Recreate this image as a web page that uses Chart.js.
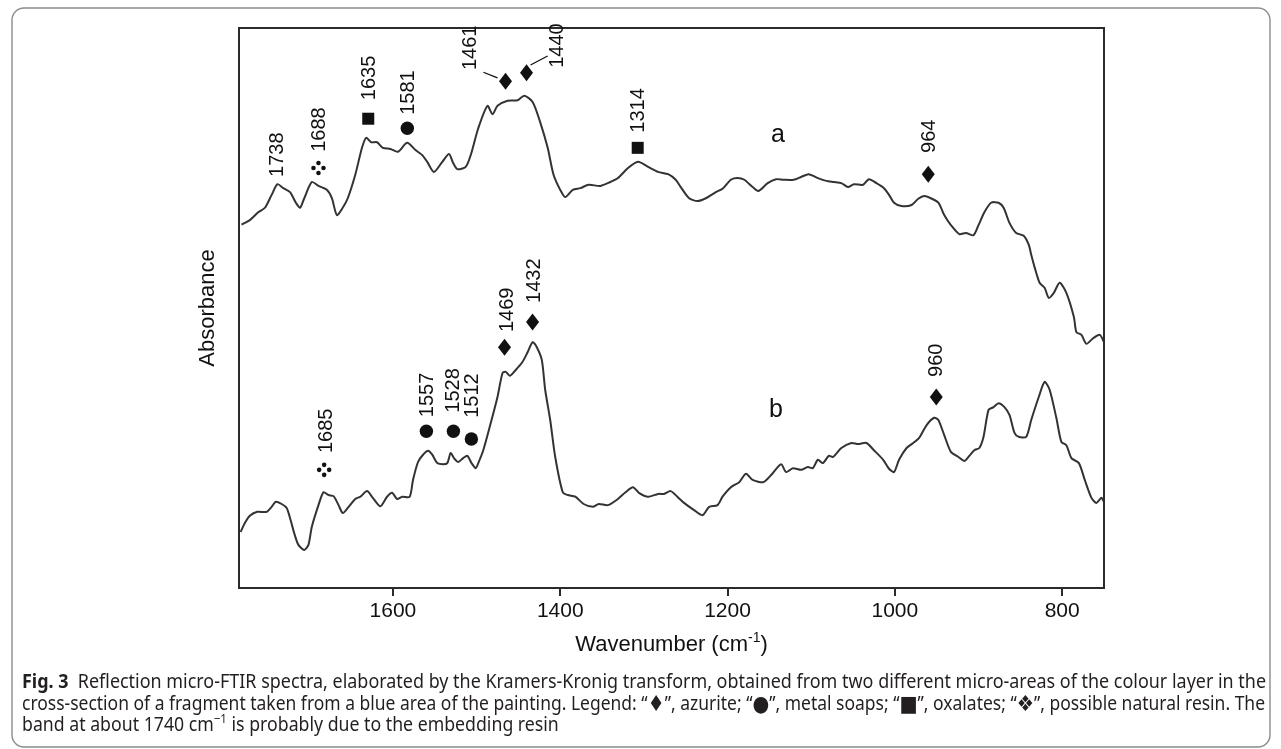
<!DOCTYPE html>
<html>
<head>
<meta charset="utf-8">
<script src="https://cdn.jsdelivr.net/npm/chart.js@4.4.0/dist/chart.umd.min.js"></script>
<style>
  html, body { margin: 0; padding: 0; background: #fff; }
  #wrap { width: 1281px; height: 749px; }
</style>
</head>
<body>
<div id="wrap"><canvas id="ftir" width="1281" height="749"></canvas></div>
<script>
// spectrum a (upper): wavenumber (cm-1) and absorbance (arbitrary units)
const waveA = [
  1781, 1771, 1761, 1753, 1745, 1738, 1731, 1723, 1716, 1711,
  1706, 1697, 1689, 1679, 1673, 1667, 1660, 1654, 1645, 1637,
  1632, 1626, 1619, 1612, 1603, 1594, 1583, 1573, 1565, 1559,
  1551, 1541, 1533, 1528, 1523, 1513, 1507, 1498, 1487, 1481,
  1475, 1463, 1451, 1443, 1433, 1424, 1415, 1408, 1400, 1394,
  1385, 1376, 1366, 1352, 1340, 1331, 1319, 1307, 1295, 1283,
  1271, 1262, 1256, 1246, 1236, 1226, 1214, 1206, 1196, 1188,
  1180, 1170, 1163, 1152, 1142, 1133, 1121, 1112, 1103, 1092,
  1082, 1073, 1064, 1056, 1049, 1038, 1031, 1022, 1013, 1007,
  1001, 992, 980, 972, 965, 957, 948, 941, 933, 923,
  915, 906, 900, 893, 885, 876, 870, 863, 855, 846,
  840, 837, 833, 827, 821, 816, 810, 803, 795, 786,
  783, 777, 771, 763, 755, 750
];
const absA = [
  64.9, 65.7, 67.1, 67.9, 70.2, 72.1, 71.4, 70.7, 68.8, 67.9,
  69.6, 72.5, 71.8, 71.1, 69.6, 66.6, 67.9, 69.6, 73.8, 78.6,
  80.4, 79.6, 79.6, 78.6, 78.4, 77.9, 79.5, 78.2, 77.3, 76.1,
  74.3, 76.1, 77.5, 75.9, 74.8, 75.2, 77.3, 82.1, 86.1, 84.6,
  86.1, 87.0, 87.1, 87.9, 86.8, 83.2, 78.6, 73.8, 71.1, 69.8,
  71.1, 71.4, 72.0, 71.8, 72.5, 73.2, 75.0, 76.1, 75.2, 74.3,
  73.9, 72.9, 71.6, 69.6, 69.1, 69.6, 70.7, 71.3, 72.9, 73.2,
  72.9, 71.6, 70.9, 72.3, 73.0, 72.9, 72.9, 73.4, 73.9, 73.2,
  72.7, 72.5, 72.3, 71.6, 72.1, 72.0, 73.0, 72.3, 71.4, 70.2,
  68.8, 68.2, 68.4, 69.5, 70.0, 69.6, 68.8, 66.6, 64.8, 63.2,
  63.4, 63.0, 64.8, 67.1, 68.8, 68.8, 67.9, 65.2, 63.4, 62.9,
  61.3, 59.5, 57.3, 54.5, 53.6, 51.8, 52.7, 54.5, 52.7, 48.4,
  45.7, 45.2, 43.6, 44.6, 45.2, 43.9
];

// spectrum b (lower)
const waveB = [
  1782, 1777, 1771, 1762, 1751, 1745, 1740, 1733, 1727, 1723,
  1718, 1713, 1706, 1701, 1697, 1689, 1683, 1677, 1671, 1665,
  1660, 1654, 1645, 1639, 1631, 1624, 1615, 1607, 1601, 1595,
  1589, 1580, 1576, 1570, 1564, 1558, 1553, 1547, 1540, 1535,
  1531, 1527, 1522, 1516, 1511, 1506, 1501, 1498, 1492, 1483,
  1475, 1469, 1465, 1460, 1454, 1445, 1439, 1433, 1428, 1422,
  1418, 1412, 1406, 1397, 1391, 1382, 1372, 1361, 1354, 1343,
  1331, 1322, 1313, 1306, 1295, 1283, 1276, 1268, 1260, 1252,
  1240, 1230, 1222, 1212, 1206, 1196, 1186, 1178, 1170, 1157,
  1146, 1136, 1130, 1122, 1112, 1104, 1098, 1092, 1086, 1079,
  1074, 1064, 1052, 1044, 1034, 1025, 1014, 1007, 1001, 995,
  986, 978, 971, 962, 953, 948, 941, 933, 924, 917,
  911, 905, 899, 894, 888, 882, 876, 869, 863, 857,
  852, 843, 837, 828, 821, 815, 807, 801, 795, 789,
  780, 773, 765, 759, 753, 750
];
const absB = [
  10.0, 11.6, 12.9, 13.6, 13.6, 14.5, 15.4, 15.0, 14.3, 12.5,
  9.8, 7.7, 6.8, 7.7, 10.9, 14.8, 17.1, 16.6, 16.4, 14.8,
  13.4, 14.3, 15.9, 16.3, 17.3, 16.1, 14.6, 16.3, 17.0, 15.9,
  16.3, 16.3, 19.3, 22.5, 23.8, 24.5, 23.8, 22.3, 22.1, 22.3,
  24.1, 23.2, 22.5, 23.2, 23.6, 22.3, 21.4, 22.3, 24.6, 29.5,
  34.1, 38.4, 38.6, 37.9, 38.8, 40.4, 42.1, 43.9, 43.0, 40.7,
  35.4, 30.0, 23.4, 17.1, 16.6, 16.3, 15.0, 14.5, 15.0, 14.8,
  15.9, 17.1, 18.0, 17.0, 16.3, 16.8, 16.8, 17.3, 16.3, 15.2,
  13.9, 13.0, 14.5, 14.8, 16.3, 18.0, 18.9, 20.4, 19.3, 18.9,
  20.5, 22.1, 20.7, 21.4, 21.1, 21.6, 21.4, 22.9, 22.3, 23.6,
  23.4, 25.0, 25.9, 25.7, 25.9, 24.6, 22.9, 21.3, 20.7, 22.9,
  25.0, 25.9, 26.8, 29.1, 30.4, 30.0, 27.3, 24.3, 23.4, 22.7,
  23.6, 24.6, 25.0, 27.0, 31.8, 32.3, 33.0, 32.3, 30.9, 27.7,
  27.0, 27.0, 30.0, 34.1, 36.8, 35.4, 30.4, 26.1, 25.5, 23.2,
  22.3, 19.3, 16.1, 15.2, 16.1, 15.4
];

const xTicks = [1600, 1400, 1200, 1000, 800];

// band labels: text, marker, marker wavenumber, marker level, label wavenumber, label level
const bandNotes = [
  ['1738', '', 0, 0, 1738.5, 73.4],
  ['1688', 'resin', 1689, 75.0, 1688, 77.9],
  ['1635', 'square', 1629.5, 83.8, 1628.3, 87.1],
  ['1581', 'circle', 1582.8, 82.1, 1581.6, 84.5],
  ['1461', 'diamond', 1465.4, 90.5, 1507.4, 92.5],
  ['1440', 'diamond', 1440.3, 92.0, 1403.2, 92.9],
  ['1314', 'square', 1307.4, 78.6, 1306.2, 81.3],
  ['964', 'diamond', 960.1, 73.9, 958.9, 77.7],
  ['1685', 'resin', 1682.2, 21.1, 1679.8, 24.1],
  ['1557', 'circle', 1560, 28.0, 1558.8, 30.5],
  ['1528', 'circle', 1527.7, 28.0, 1527.7, 31.3],
  ['1512', 'circle', 1506.2, 26.6, 1505, 30.4],
  ['1469', 'diamond', 1466.6, 43.0, 1463, 45.7],
  ['1432', 'diamond', 1433.1, 47.5, 1430.7, 50.9],
  ['960', 'diamond', 950.5, 34.1, 950.5, 37.7]
];
const leaderLines = [
  [1491.8, 92.1, 1475, 91.1],
  [1435.5, 93.4, 1415.1, 95.0]
];
const traceNames = [['a', 1139.7, 80.9], ['b', 1142.1, 31.8]];

// caption, split where the font changes (s = bigger legend symbol, p = superscript)
const captionLine1 = [
  ['b', 'Fig. 3'],
  ['r', '  Reflection micro-FTIR spectra, elaborated by the Kramers-Kronig transform, obtained from two different micro-areas of the colour layer in the']
];
const captionLine2 = [
  ['r', 'cross-section of a fragment taken from a blue area of the painting. Legend: \u201c'],
  ['s', '\u2666'], ['r', '\u201d, azurite; \u201c'],
  ['s', '\u25CF'], ['r', '\u201d, metal soaps; \u201c'],
  ['s', '\u25A0'], ['r', '\u201d, oxalates; \u201c'],
  ['s', '\u2756'], ['r', '\u201d, possible natural resin. The']
];
const captionLine3 = [
  ['r', 'band at about 1740 cm'],
  ['p', '\u22121'],
  ['r', ' is probably due to the embedding resin']
];

const FONT = '"Liberation Sans", Arial, sans-serif';
const CAP_FONT = '"Noto Sans", "Open Sans", sans-serif';
const capFonts = {
  b: 'bold 20px ' + CAP_FONT,
  r: '20px ' + CAP_FONT,
  s: '22px "DejaVu Sans", sans-serif',
  p: '13px ' + CAP_FONT
};

function drawMarker(ctx, kind, x, y) {
  ctx.beginPath();
  if (kind === 'diamond') {
    ctx.moveTo(x, y - 8.5);
    ctx.lineTo(x + 6.5, y);
    ctx.lineTo(x, y + 8.5);
    ctx.lineTo(x - 6.5, y);
    ctx.closePath();
    ctx.fill();
  } else if (kind === 'circle') {
    ctx.arc(x, y, 6.7, 0, Math.PI * 2);
    ctx.fill();
  } else if (kind === 'square') {
    ctx.fillRect(x - 6, y - 6, 12, 12);
  } else if (kind === 'resin') {
    [[0, -5], [5, 0], [0, 5], [-5, 0]].forEach(function (d) {
      ctx.beginPath();
      ctx.arc(x + d[0], y + d[1], 2.3, 0, Math.PI * 2);
      ctx.fill();
    });
  }
}

function lineWidth(ctx, parts) {
  let w = 0;
  parts.forEach(function (p) {
    ctx.font = capFonts[p[0]];
    w += ctx.measureText(p[1]).width;
  });
  return w;
}

function drawLine(ctx, parts, x, y, k) {
  ctx.save();
  ctx.translate(x, y);
  ctx.scale(k, 1);
  let cx = 0;
  parts.forEach(function (p) {
    ctx.font = capFonts[p[0]];
    const dy = p[0] === 'p' ? -8 : (p[0] === 's' ? 1 : 0);
    ctx.fillText(p[1], cx, dy);
    cx += ctx.measureText(p[1]).width;
  });
  ctx.restore();
}

const extras = {
  id: 'extras',
  afterDraw(chart) {
    const ctx = chart.ctx;
    const xs = chart.scales.x;
    const ys = chart.scales.y;
    const area = chart.chartArea;

    ctx.save();
    // plot frame
    ctx.strokeStyle = '#2b2b2b';
    ctx.lineWidth = 2;
    ctx.strokeRect(area.left, area.top, area.right - area.left, area.bottom - area.top);

    // band annotations
    ctx.fillStyle = '#111';
    ctx.font = '20px ' + FONT;
    bandNotes.forEach(function (n) {
      if (n[1]) drawMarker(ctx, n[1], xs.getPixelForValue(n[2]), ys.getPixelForValue(n[3]));
      ctx.save();
      ctx.translate(xs.getPixelForValue(n[4]), ys.getPixelForValue(n[5]));
      ctx.rotate(-Math.PI / 2);
      ctx.textAlign = 'left';
      ctx.textBaseline = 'middle';
      ctx.fillText(n[0], 0, 0);
      ctx.restore();
    });
    ctx.strokeStyle = '#111';
    ctx.lineWidth = 1.3;
    leaderLines.forEach(function (l) {
      ctx.beginPath();
      ctx.moveTo(xs.getPixelForValue(l[0]), ys.getPixelForValue(l[1]));
      ctx.lineTo(xs.getPixelForValue(l[2]), ys.getPixelForValue(l[3]));
      ctx.stroke();
    });

    ctx.font = '25px ' + FONT;
    ctx.textAlign = 'center';
    ctx.textBaseline = 'middle';
    traceNames.forEach(function (t) {
      ctx.fillText(t[0], xs.getPixelForValue(t[1]), ys.getPixelForValue(t[2]));
    });

    // x axis title with superscript
    const mainT = 'Wavenumber (cm';
    const supT = '-1';
    ctx.font = '22px ' + FONT;
    const w1 = ctx.measureText(mainT).width;
    const w3 = ctx.measureText(')').width;
    ctx.font = '14px ' + FONT;
    const w2 = ctx.measureText(supT).width;
    const tx = (area.left + area.right) / 2 - (w1 + w2 + w3) / 2;
    const ty = 651;
    ctx.textAlign = 'left';
    ctx.textBaseline = 'alphabetic';
    ctx.font = '22px ' + FONT;
    ctx.fillText(mainT, tx, ty);
    ctx.font = '14px ' + FONT;
    ctx.fillText(supT, tx + w1, ty - 9);
    ctx.font = '22px ' + FONT;
    ctx.fillText(')', tx + w1 + w2, ty);

    // caption
    ctx.fillStyle = '#231f20';
    const capX = 22;
    const k1 = (1266 - capX) / lineWidth(ctx, captionLine1);
    const k2 = (1265 - capX) / lineWidth(ctx, captionLine2);
    drawLine(ctx, captionLine1, capX, 688, k1);
    drawLine(ctx, captionLine2, capX, 709.5, k2);
    drawLine(ctx, captionLine3, capX, 731, (k1 + k2) / 2);

    // outer figure frame
    ctx.strokeStyle = '#8c8c8c';
    ctx.lineWidth = 1.4;
    ctx.beginPath();
    ctx.roundRect(12, 8, 1258, 739, 12);
    ctx.stroke();
    ctx.restore();
  }
};

new Chart(document.getElementById('ftir'), {
  type: 'scatter',
  data: {
    datasets: [
      {
        label: 'a',
        data: waveA.map(function (w, i) { return { x: w, y: absA[i] }; }),
        showLine: true,
        borderColor: '#333',
        borderWidth: 2,
        pointRadius: 0,
        tension: 0.25
      },
      {
        label: 'b',
        data: waveB.map(function (w, i) { return { x: w, y: absB[i] }; }),
        showLine: true,
        borderColor: '#333',
        borderWidth: 2,
        pointRadius: 0,
        tension: 0.25
      }
    ]
  },
  options: {
    responsive: false,
    animation: false,
    devicePixelRatio: 1,
    layout: { padding: { left: 195, top: 28, right: 177, bottom: 0 } },
    plugins: {
      legend: { display: false },
      tooltip: { enabled: false }
    },
    scales: {
      x: {
        type: 'linear',
        reverse: true,
        min: 750,
        max: 1784,
        afterBuildTicks: function (scale) {
          scale.ticks = xTicks.map(function (v) { return { value: v }; });
        },
        afterFit: function (scale) { scale.height = 161; },
        ticks: {
          color: '#111',
          font: { family: FONT, size: 21 },
          padding: 3,
          maxRotation: 0,
          autoSkip: false,
          callback: function (v) { return String(v); }
        },
        grid: {
          display: true,
          drawOnChartArea: false,
          drawTicks: true,
          tickLength: 8,
          color: '#2b2b2b',
          lineWidth: 2
        },
        border: { display: false }
      },
      y: {
        min: 0,
        max: 100,
        afterFit: function (scale) { scale.width = 44; },
        ticks: { display: false },
        grid: { display: false },
        border: { display: false },
        title: {
          display: true,
          text: 'Absorbance',
          color: '#111',
          font: { family: FONT, size: 22 },
          padding: 0
        }
      }
    }
  },
  plugins: [extras]
});
</script>
</body>
</html>
